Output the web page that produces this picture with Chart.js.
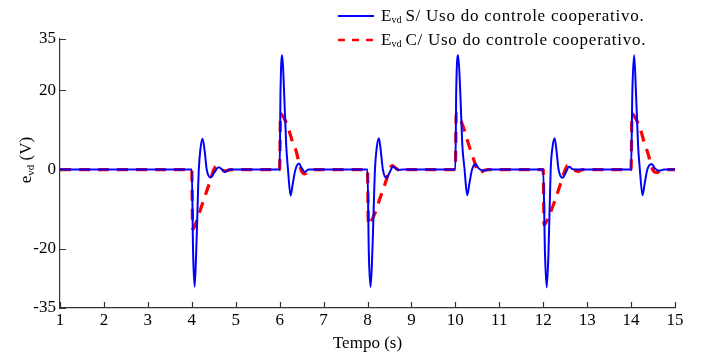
<!DOCTYPE html>
<html>
<head>
<meta charset="utf-8">
<script src="https://cdn.jsdelivr.net/npm/chart.js@4.4.1/dist/chart.umd.min.js"></script>
<style>
  html, body { margin: 0; padding: 0; background: #fff; }
  #wrap { width: 702px; height: 360px; position: relative; }
</style>
</head>
<body>
<div id="wrap"><canvas id="chart"></canvas></div>
<script>
// ===== Data =====
const xTickValues = [1, 2, 3, 4, 5, 6, 7, 8, 9, 10, 11, 12, 13, 14, 15];
// the top of the original axis sits a bit below 35 but is labelled "35"
const yTickValues = [-35, -20, 0, 20, 33];
const yTickLabels = ['-35', '-20', '0', '20', '35'];

const seriesNames = ['S/ Uso do controle cooperativo.', 'C/ Uso do controle cooperativo.'];

// E_vd without cooperative control (blue)
const blueTime = [
  1, 4.0,
  4.03, 4.065, 4.10, 4.16, 4.20, 4.245, 4.29, 4.34, 4.43, 4.52, 4.61, 4.68, 4.75, 4.85,
  6.0, 6.02, 6.06, 6.10, 6.15, 6.19, 6.25, 6.30, 6.36, 6.44, 6.50, 6.57, 6.66,
  8.0, 8.03, 8.07, 8.11, 8.17, 8.21, 8.26, 8.30, 8.35, 8.43, 8.51, 8.58, 8.65, 8.72, 8.80,
  10.0, 10.02, 10.065, 10.11, 10.16, 10.21, 10.27, 10.32, 10.38, 10.46, 10.53, 10.65, 10.75,
  12.0, 12.04, 12.08, 12.12, 12.17, 12.21, 12.26, 12.30, 12.35, 12.44, 12.52, 12.59, 12.67, 12.75,
  14.0, 14.03, 14.07, 14.11, 14.16, 14.20, 14.26, 14.31, 14.37, 14.47, 14.54, 14.64, 14.75, 15.0
];
const blueValue = [
  0, 0,
  -21, -29.6, -21, 0, 5.5, 7.8, 5, 0, -2.0, -0.6, 0.6, 0.1, -0.6, 0,
  0, 20, 28.9, 20, 6, 0, -6.6, -3.5, 0, 1.5, 0.4, -0.6, 0,
  0, -21, -29.7, -21, 0, 5.5, 7.9, 5, 0, -2.1, -0.6, 0.8, 0.2, -0.1, 0,
  0, 20, 28.9, 20, 6, 0, -6.5, -3.5, 0, 1.4, 0.3, -0.3, 0,
  0, -21, -29.8, -21, 0, 5.5, 7.9, 5, 0, -2.1, -0.6, 0.7, 0.1, 0,
  0, 20, 28.9, 20, 6, 0, -6.5, -3.5, 0, 1.4, 0.3, -0.3, 0, 0
];

// E_vd with cooperative control (red, dashed)
const redTime = [
  1, 4.0,
  4.02, 4.04, 4.16, 4.28, 4.43, 4.50, 4.56, 4.65, 4.76, 4.90,
  6.0, 6.02, 6.04, 6.12, 6.22, 6.30, 6.38, 6.45, 6.51, 6.57, 6.66, 6.75,
  8.0, 8.02, 8.04, 8.16, 8.28, 8.43, 8.50, 8.56, 8.65, 8.77, 8.90,
  10.0, 10.02, 10.04, 10.12, 10.21, 10.29, 10.37, 10.44, 10.50, 10.56, 10.66, 10.75,
  12.0, 12.02, 12.04, 12.16, 12.28, 12.43, 12.50, 12.56, 12.66, 12.78, 12.90,
  14.0, 14.02, 14.04, 14.12, 14.21, 14.30, 14.40, 14.46, 14.52, 14.58, 14.68, 14.80, 15.0
];
const redValue = [
  0, 0,
  -15, -14.9, -11.3, -7.4, -2.5, 0, 0.8, 0.2, -0.4, 0,
  0, 14.2, 14, 12.6, 9.6, 6.8, 4.5, 1.2, -0.6, -1.1, -0.3, 0,
  0, -14, -13.8, -11.3, -7.4, -2.6, 0, 1.0, 0.3, -0.5, 0,
  0, 14.1, 14, 12.5, 9.8, 6.8, 4, 1.8, -0.3, -0.8, -0.2, 0,
  0, -14, -13.8, -11, -7.4, -2.4, 0, 1.0, 0.3, -0.5, 0,
  0, 14.1, 14, 12.6, 10.3, 6.8, 3.5, 0.8, -0.5, -0.8, -0.2, 0, 0
];

const toPoints = (ts, vs) => ts.map((t, i) => ({ x: t, y: vs[i] }));

const FONT = 'Liberation Serif, Times New Roman, serif';
const AXIS_COLOR = '#333';

// inward tick marks, legend and y-axis title with subscripts
const decor = {
  id: 'decor',
  afterDraw(chart) {
    const ctx = chart.ctx;
    const xs = chart.scales.x, ys = chart.scales.y;
    ctx.save();
    ctx.strokeStyle = AXIS_COLOR;
    ctx.lineWidth = 1.2;
    ctx.beginPath();
    xTickValues.forEach(v => {
      const px = Math.round(xs.getPixelForValue(v)) + 0.5;
      ctx.moveTo(px, ys.bottom);
      ctx.lineTo(px, ys.bottom - 6);
    });
    yTickValues.forEach(v => {
      const py = Math.round(ys.getPixelForValue(v)) + 0.5;
      ctx.moveTo(xs.left, py);
      ctx.lineTo(xs.left + 6, py);
    });
    ctx.stroke();

    // legend
    const rows = [
      { color: '#0000ff', dash: [], width: 2, y: 21 },
      { color: '#ff0000', dash: [7, 7], width: 2.5, y: 45 }
    ];
    rows.forEach((r, i) => {
      ctx.beginPath();
      ctx.setLineDash(r.dash);
      ctx.strokeStyle = r.color;
      ctx.lineWidth = r.width;
      ctx.moveTo(338, r.y - 5);
      ctx.lineTo(374, r.y - 5);
      ctx.stroke();
      ctx.setLineDash([]);
      ctx.fillStyle = '#000';
      ctx.textBaseline = 'alphabetic';
      ctx.textAlign = 'left';
      let x = 381;
      ctx.letterSpacing = '0px';
      ctx.font = '17px ' + FONT;
      ctx.fillText('E', x, r.y);
      x += ctx.measureText('E').width;
      ctx.font = '10px ' + FONT;
      ctx.fillText('vd', x, r.y + 2);
      x += ctx.measureText('vd').width + 4;
      ctx.font = '17px ' + FONT;
      ctx.letterSpacing = '0.75px';
      ctx.fillText(seriesNames[i], x, r.y);
      ctx.letterSpacing = '0px';
    });

    // y-axis title: e_vd (V)
    ctx.translate(31, 160);
    ctx.rotate(-Math.PI / 2);
    ctx.font = '17px ' + FONT;
    const wE = ctx.measureText('e').width;
    const wR = ctx.measureText(' (V)').width;
    ctx.font = '11px ' + FONT;
    const wS = ctx.measureText('vd').width;
    let x = -(wE + wS + wR) / 2;
    ctx.fillStyle = '#000';
    ctx.font = '17px ' + FONT;
    ctx.fillText('e', x, 0);
    x += wE;
    ctx.font = '11px ' + FONT;
    ctx.fillText('vd', x, 3);
    x += wS;
    ctx.font = '17px ' + FONT;
    ctx.fillText(' (V)', x, 0);
    ctx.restore();
  }
};

new Chart(document.getElementById('chart'), {
  type: 'line',
  data: {
    datasets: [
      {
        label: 'Evd ' + seriesNames[0],
        data: toPoints(blueTime, blueValue),
        borderColor: '#0000ff',
        borderWidth: 2,
        pointRadius: 0,
        cubicInterpolationMode: 'monotone',
        order: 0
      },
      {
        label: 'Evd ' + seriesNames[1],
        data: toPoints(redTime, redValue),
        borderColor: '#ff0000',
        borderWidth: 3.2,
        borderDash: [11, 8],
        pointRadius: 0,
        cubicInterpolationMode: 'monotone',
        order: 1
      }
    ]
  },
  options: {
    responsive: true,
    maintainAspectRatio: false,
    animation: false,
    layout: { padding: { top: 39, right: 27, left: 0, bottom: 0 } },
    plugins: {
      legend: { display: false },
      tooltip: { enabled: false }
    },
    scales: {
      x: {
        type: 'linear',
        min: 1,
        max: 15,
        afterBuildTicks: s => { s.ticks = xTickValues.map(v => ({ value: v })); },
        afterFit: s => { s.height = 52; },
        grid: { display: false, drawTicks: false },
        border: { display: true, color: AXIS_COLOR, width: 1.2 },
        ticks: { color: '#000', padding: 2, maxRotation: 0, font: { family: FONT, size: 17 } },
        title: { display: true, text: 'Tempo (s)', color: '#000', padding: { top: 0, bottom: 6 }, font: { family: FONT, size: 17 } }
      },
      y: {
        min: -35,
        max: 33,
        afterBuildTicks: s => { s.ticks = yTickValues.map(v => ({ value: v })); },
        afterFit: s => { s.width = 60; },
        grid: { display: false, drawTicks: false },
        border: { display: true, color: AXIS_COLOR, width: 1.2 },
        ticks: {
          color: '#000',
          padding: 4,
          font: { family: FONT, size: 17 },
          callback: v => yTickLabels[yTickValues.indexOf(v)]
        }
      }
    }
  },
  plugins: [decor]
});
</script>
</body>
</html>
